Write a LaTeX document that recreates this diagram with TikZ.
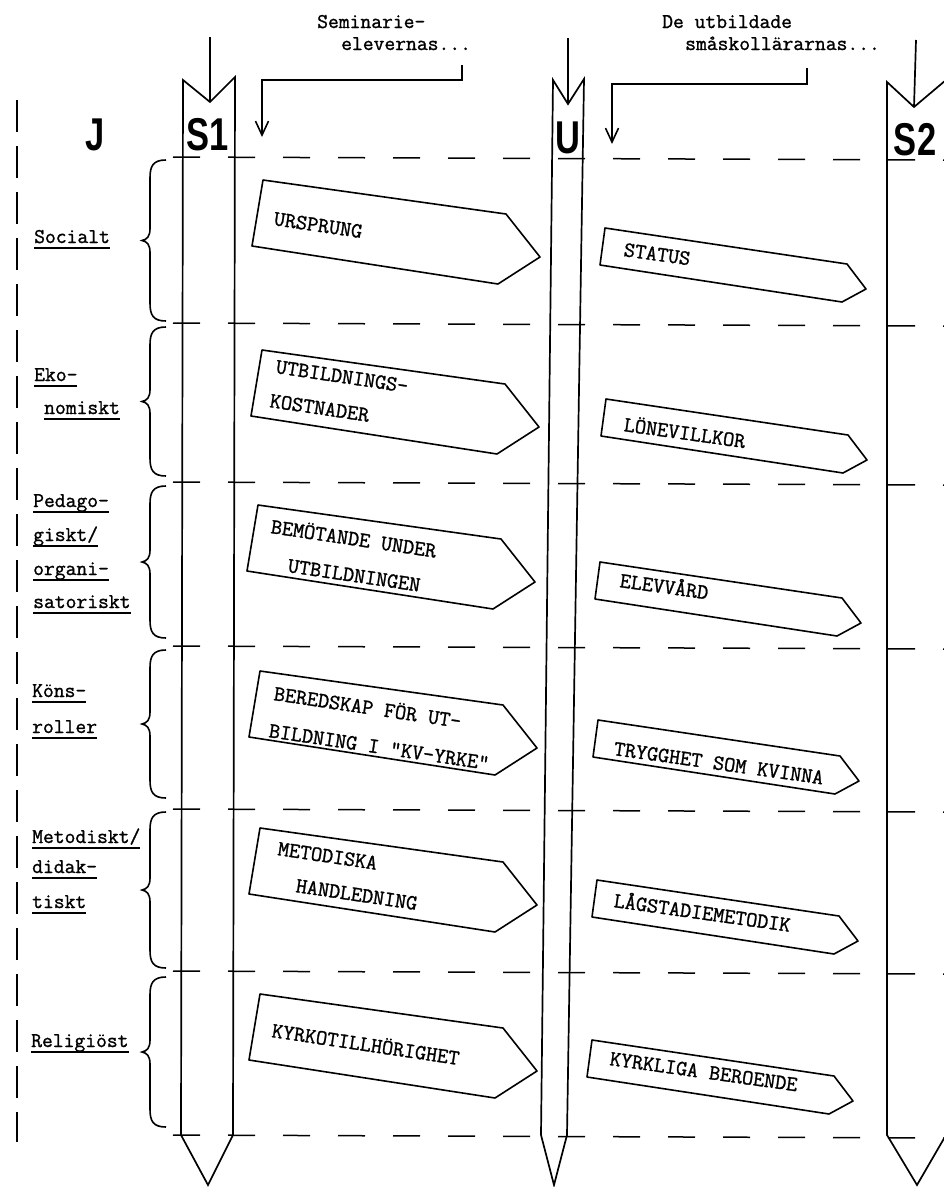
\documentclass[tikz,border=0pt]{standalone}
\usepackage{fontspec}
\newfontfamily\twfont{Latin Modern Mono}[FakeBold=1.2]
\newfontfamily\boldcond{Liberation Sans}[FakeStretch=0.75]
\usetikzlibrary{arrows.meta}
\newcommand\ulword[1]{\setbox0\hbox{#1}\rlap{\rule[-5.5pt]{\wd0}{1.3pt}}\box0}
\newcommand\lblfont{\twfont\fontsize{21}{23}\selectfont}
\newcommand\tagfont{\twfont\fontsize{21.6}{23}\selectfont}
\newcommand\bigfont{\boldcond\bfseries\fontsize{46}{48}\selectfont}
\begin{document}
\begin{tikzpicture}[x=1pt,y=-1pt,
  ln/.style={line width=1.7pt, line join=miter},
  dsh/.style={line width=1.5pt, dash pattern=on 27pt off 28pt},
  tagline/.style={line width=1.6pt, line join=round},
  lbl/.style={font=\lblfont, anchor=base west, inner sep=0pt},
  ltxt/.style={font=\tagfont, anchor=base west, inner sep=0pt, rotate=-8.5},
  rtxt/.style={font=\tagfont, anchor=base west, inner sep=0pt, rotate=-8},
  big/.style={font=\bigfont, anchor=base, inner sep=0pt},
  arr/.style={line width=1.6pt, -{Straight Barb[length=14pt,width=13pt]}},
  ltag/.pic={\draw[tagline] (0,0) -- (243,34) -- (277,77) -- (235,104) -- (-11,66) -- cycle;},
  rtag/.pic={\draw[tagline] (0,0) -- (242,36) -- (261,61) -- (237,74) -- (-5,37) -- cycle;}
]
\useasboundingbox (0,0) rectangle (944,1187);
\clip (0,0) rectangle (944,1187);
\fill[white] (0,0) rectangle (944,1187);

% left dashed vertical line
\draw[line width=2.6pt, dash pattern=on 32pt off 14pt] (17,100) -- (17,1142);

% horizontal dashed lines
\foreach \y in {157,323,482,646,809,971,1135}
  \draw[dsh] (173,\y) -- (944,\y+3);

% columns
\draw[ln] (210,102) -- (183,80) -- (181,1135) -- (208,1185) -- (233,1135) -- (235,77) -- cycle;
\draw[ln] (568,104) -- (553,80) -- (541,1135) -- (554,1185) -- (567,1135) -- (584,79) -- cycle;
\draw[ln] (914,107) -- (887,82) -- (887,1135) -- (917,1185) -- (946,1135) -- (946,80) -- cycle;

% vertical arrows into columns
\coordinate (s1top) at (210,37);  \coordinate (s1notch) at (210,102);
\coordinate (utop) at (568,38);   \coordinate (unotch) at (568,104);
\coordinate (s2top) at (916,40);  \coordinate (s2notch) at (914,107);
\draw[ln] (s1top) -- (s1notch);
\draw[ln] (utop) -- (unotch);
\draw[ln] (s2top) -- (s2notch);

% column labels
\node[big] (J)  at (95,150) {J};
\node[big] (S1) at (208,150) {S1};
\node[big] (U)  at (568,153) {U};
\node[big] (S2) at (915,155) {S\kern1pt2};

% top texts
\node[lbl] (sem1) at (317,28) {Seminarie-};
\node[lbl] (sem2) at (341,50) {elevernas...};
\node[lbl] (de1) at (662,28) {De utbildade};
\node[lbl] (de2) at (685,50) {småskollärarnas...};

% elbow arrows
\coordinate (semtick) at (462,65); \coordinate (semtip) at (262,137);
\draw[arr] (semtick) -- (462,80) -| (semtip);
\coordinate (detick) at (807,68); \coordinate (detip) at (612,144);
\draw[arr] (detick) -- (807,84) -| (detip);

% braces
\foreach \T/\B in {160/321, 327/476, 486/638, 650/798, 812/968, 977/1127} {
  \pgfmathsetmacro\M{(\T+\B)/2}
  \draw[line width=1.6pt] (166,\T) .. controls (153,\T) and (150,\T+6) .. (150,\T+18)
     -- (150,\M-12) .. controls (150,\M-4) and (147,\M-1) .. (142,\M)
     .. controls (147,\M+1) and (150,\M+4) .. (150,\M+12)
     -- (150,\B-18) .. controls (150,\B-6) and (153,\B) .. (166,\B);
}

% left labels
\node[lbl] (l1) at (34,243) {\ulword{Socialt}};
\node[lbl] (l2a) at (34,381) {\ulword{Eko-}};
\node[lbl] (l2b) at (44,414) {\ulword{nomiskt}};
\node[lbl] (l3a) at (33,507) {\ulword{Pedago-}};
\node[lbl] (l3b) at (33,541) {\ulword{giskt/}};
\node[lbl] (l3c) at (33,575) {\ulword{organi-}};
\node[lbl] (l3d) at (33,608) {\ulword{satoriskt}};
\node[lbl] (l4a) at (32,697) {\ulword{Köns-}};
\node[lbl] (l4b) at (32,733) {\ulword{roller}};
\node[lbl] (l5a) at (32,843) {\ulword{Metodiskt/}};
\node[lbl] (l5b) at (32,873) {\ulword{didak-}};
\node[lbl] (l5c) at (32,908) {\ulword{tiskt}};
\node[lbl] (l6) at (31,1047) {\ulword{Religiöst}};

% left tags
\pic at (263,180) {ltag};
\pic at (262,350) {ltag};
\pic at (258,505) {ltag};
\pic at (260,671) {ltag};
\pic at (260,828) {ltag};
\pic at (260,994) {ltag};
\node[ltxt] (t1) at (273,225) {URSPRUNG};
\node[ltxt] (t2a) at (275,373) {UTBILDNINGS-};
\node[ltxt] (t2b) at (269,407) {KOSTNADER};
\node[ltxt] (t3a) at (270,533) {BEMÖTANDE UNDER};
\node[ltxt] (t3b) at (287,572) {UTBILDNINGEN};
\node[ltxt] (t4a) at (273,700) {BEREDSKAP FÖR UT-};
\node[ltxt] (t4b) at (268,737) {BILDNING I "KV-YRKE"};
\node[ltxt] (t5a) at (277,855) {METODISKA};
\node[ltxt] (t5b) at (295,892) {HANDLEDNING};
\node[ltxt] (t6) at (271,1037) {KYRKOTILLHÖRIGHET};

% right tags
\pic at (605,228) {rtag};
\pic at (606,399) {rtag};
\pic at (600,562) {rtag};
\pic at (598,720) {rtag};
\pic at (597,880) {rtag};
\pic at (592,1040) {rtag};
\node[rtxt] (r1) at (623,256) {STATUS};
\node[rtxt] (r2) at (623,431) {LÖNEVILLKOR};
\node[rtxt] (r3) at (619,587) {ELEVVÅRD};
\node[rtxt] (r4) at (613,755) {TRYGGHET SOM KVINNA};
\node[rtxt] (r5) at (613,907) {LÅGSTADIEMETODIK};
\node[rtxt] (r6) at (609,1065) {KYRKLIGA BEROENDE};
\end{tikzpicture}
\end{document}
